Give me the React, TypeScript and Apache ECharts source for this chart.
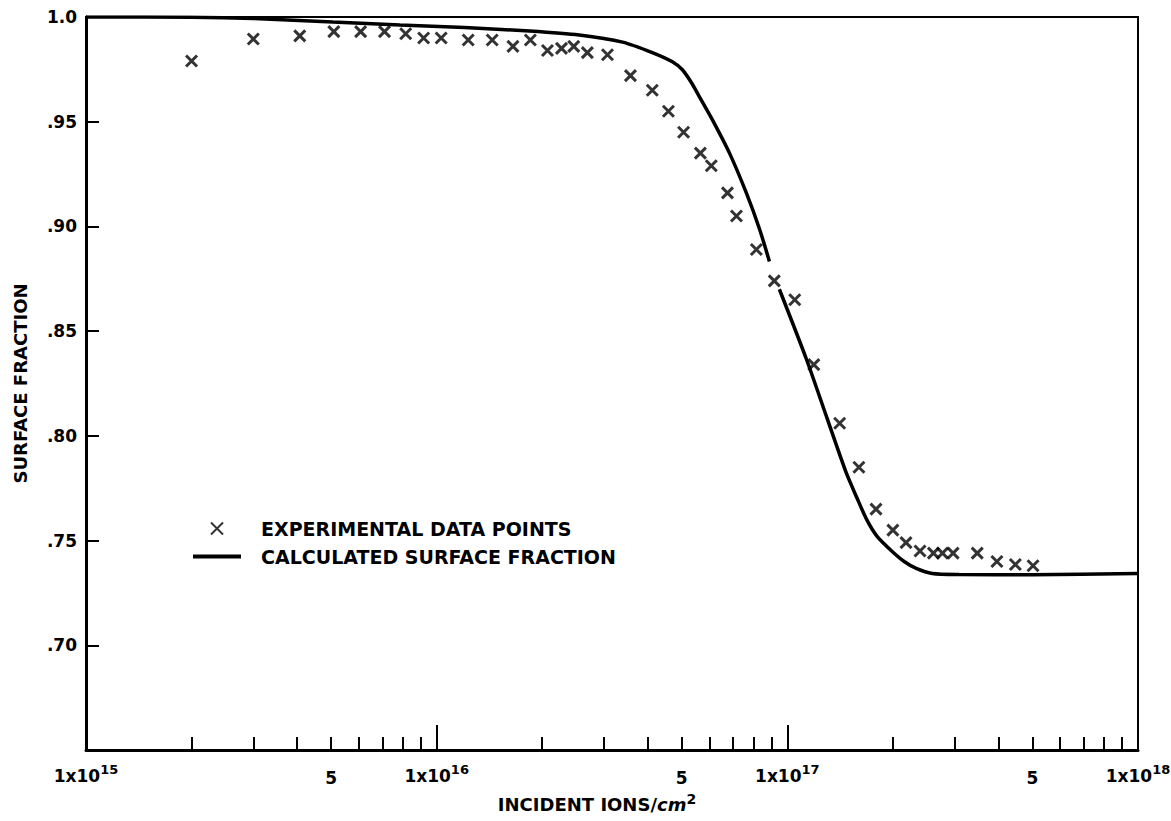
import React, { useEffect, useRef } from "react";
import * as echarts from "echarts";

// Measured surface fraction vs. incident ion fluence (ions/cm^2)
const expFluence = [
  2.0e15, 3.0e15, 4.07e15, 5.09e15, 6.07e15, 7.1e15, 8.16e15, 9.18e15, 1.03e16,
  1.23e16, 1.44e16, 1.65e16, 1.85e16, 2.07e16, 2.27e16, 2.46e16, 2.69e16, 3.07e16,
  3.57e16, 4.12e16, 4.58e16, 5.06e16, 5.65e16, 6.07e16, 6.75e16, 7.16e16, 8.16e16,
  9.18e16, 1.05e17, 1.19e17, 1.41e17, 1.6e17, 1.79e17, 2.0e17, 2.18e17, 2.39e17,
  2.61e17, 2.77e17, 2.97e17, 3.48e17, 3.96e17, 4.47e17, 5.02e17,
];
const expFraction = [
  0.979, 0.9895, 0.991, 0.993, 0.993, 0.993, 0.992, 0.99, 0.99,
  0.989, 0.989, 0.986, 0.989, 0.984, 0.985, 0.986, 0.983, 0.982,
  0.972, 0.965, 0.955, 0.945, 0.935, 0.929, 0.916, 0.905, 0.889,
  0.874, 0.865, 0.834, 0.806, 0.785, 0.765, 0.755, 0.749, 0.745,
  0.744, 0.744, 0.744, 0.744, 0.74, 0.7386, 0.738,
];

// Calculated surface fraction (null marks the break in the drawn curve)
const calcFluence = [
  1e15, 2e15, 3e15, 5.06e15, 7.86e15, 1.2e16, 1.84e16, 2.55e16, 3.39e16, 4.12e16,
  4.7e16, 5.02e16, 5.33e16, 5.61e16, 6.11e16, 6.84e16, 7.64e16, 8.32e16, 8.89e16, 9.2e16,
  9.49e16, 1.133e17, 1.3e17, 1.468e17, 1.583e17, 1.69e17, 1.805e17, 1.991e17,
  2.154e17, 2.331e17, 2.589e17, 3.09e17, 5.0e17, 1e18,
];
const calcFraction: (number | null)[] = [
  1.0, 0.9999, 0.9993, 0.9976, 0.9962, 0.995, 0.9933, 0.9914, 0.988, 0.983,
  0.9786, 0.9748, 0.9686, 0.962, 0.951, 0.935, 0.916, 0.899, 0.8833, null,
  0.87, 0.8367, 0.8081, 0.7829, 0.77, 0.7595, 0.7519, 0.7448,
  0.74, 0.7367, 0.7343, 0.7338, 0.7337, 0.7343,
];

// Axis ticks
const decades = [1e15, 1e16, 1e17, 1e18];
const minorMultipliers = [2, 3, 4, 5, 6, 7, 8, 9];
const fiveLabels = [5e15, 5e16, 5e17];
const yMin = 0.65;
const yMax = 1.0;
const yStep = 0.05;

const SERIES_EXP = "EXPERIMENTAL DATA POINTS";
const SERIES_CALC = "CALCULATED SURFACE FRACTION";

const FONT = "DejaVu Sans";
const baseText = { fontFamily: FONT, fontWeight: "bold" as const, color: "#000" };

export default function App() {
  const ref = useRef<HTMLDivElement>(null);

  useEffect(() => {
    if (!ref.current) return;
    const chart = echarts.init(ref.current, undefined, { renderer: "svg" });

    const minorTicks: number[] = [];
    decades.slice(0, -1).forEach((d) => minorMultipliers.forEach((m) => minorTicks.push(d * m)));

    const supRich = {
      b: { ...baseText, fontSize: 17 },
      sup: { ...baseText, fontSize: 13, padding: [0, 0, 12, 0] },
    };

    const option: any = {
      animation: false,
      backgroundColor: "#fff",
      grid: {
        left: 86,
        right: 33,
        top: 17,
        bottom: 71,
        show: true,
        borderColor: "#000",
        borderWidth: 2,
        outerBoundsMode: "none",
      },
      legend: {
        left: 188,
        top: 514,
        orient: "vertical",
        itemWidth: 48,
        itemHeight: 12,
        itemGap: 9,
        textStyle: { ...baseText, fontSize: 19, padding: [0, 0, 0, 15] },
        data: [
          { name: SERIES_EXP },
          { name: SERIES_CALC, icon: "path://M0,0H48V4H0Z" },
        ],
      },
      xAxis: [
        {
          // decade ticks and their labels
          type: "log",
          logBase: 10,
          min: decades[0],
          max: decades[decades.length - 1],
          splitNumber: decades.length - 1,
          position: "bottom",
          axisLine: { onZero: false, lineStyle: { color: "#000", width: 3 } },
          axisTick: {
            inside: true,
            length: 25,
            lineStyle: { color: "#000", width: 2 },
          },
          minorTick: { show: false },
          splitLine: { show: false },
          axisLabel: {
            margin: 13,
            showMinLabel: true,
            showMaxLabel: true,
            hideOverlap: false,
            formatter: (v: number) => `{b|1x10}{sup|${Math.round(Math.log10(v))}}`,
            rich: supRich,
          },
          name: "{b|INCIDENT IONS/}{c|cm}{sup|2}",
          nameLocation: "middle",
          nameGap: 42,
          nameTextStyle: {
            ...baseText,
            padding: [0, 30, 0, 0],
            rich: {
              b: { ...baseText, fontSize: 18 },
              c: { ...baseText, fontSize: 18, fontStyle: "italic" },
              sup: { ...baseText, fontSize: 14, padding: [0, 0, 11, 0] },
            },
          },
        },
        {
          // intermediate ticks (2..9 within each decade)
          type: "log",
          logBase: 10,
          min: decades[0],
          max: decades[decades.length - 1],
          position: "bottom",
          axisLine: { show: false, onZero: false },
          axisTick: {
            inside: true,
            length: 13,
            customValues: minorTicks,
            lineStyle: { color: "#000", width: 2 },
          },
          splitLine: { show: false },
          axisLabel: {
            margin: 19,
            customValues: fiveLabels,
            formatter: () => "5",
            ...baseText,
            fontSize: 17,
          },
        },
      ],
      yAxis: {
        type: "value",
        min: yMin,
        max: yMax,
        interval: yStep,
        axisLine: { show: true, onZero: false, lineStyle: { color: "#000", width: 3 } },
        axisTick: { inside: true, length: 13, lineStyle: { color: "#000", width: 2 } },
        splitLine: { show: false },
        axisLabel: {
          margin: 9,
          ...baseText,
          fontSize: 17,
          formatter: (v: number) => {
            if (Math.abs(v - yMin) < 1e-6) return "";
            if (Math.abs(v - 1) < 1e-6) return "1.0";
            return "." + Math.round(v * 100).toString().padStart(2, "0");
          },
        },
        name: "SURFACE FRACTION",
        nameLocation: "middle",
        nameGap: 57,
        nameTextStyle: { ...baseText, fontSize: 18 },
      },
      series: [
        {
          name: SERIES_CALC,
          type: "line",
          xAxisIndex: 0,
          data: calcFluence.map((x, i) => [x, calcFraction[i] === null ? "-" : calcFraction[i]]),
          showSymbol: false,
          symbol: "none",
          smooth: 0.25,
          connectNulls: false,
          lineStyle: { color: "#000", width: 3.5 },
          itemStyle: { color: "#000" },
          z: 3,
        },
        {
          name: SERIES_EXP,
          type: "scatter",
          xAxisIndex: 0,
          data: expFluence.map((x, i) => [x, expFraction[i]]),
          symbol: "path://M0,0L10,10M10,0L0,10",
          symbolSize: 11,
          symbolKeepAspect: true,
          itemStyle: { color: "rgba(0,0,0,0)", borderColor: "#000", borderWidth: 3 },
          z: 4,
        },
      ],
    };

    chart.setOption(option);
    return () => chart.dispose();
  }, []);

  return (
    <div
      ref={ref}
      style={{ position: "fixed", left: 0, top: 0, width: 1171, height: 821, background: "#fff" }}
    />
  );
}
